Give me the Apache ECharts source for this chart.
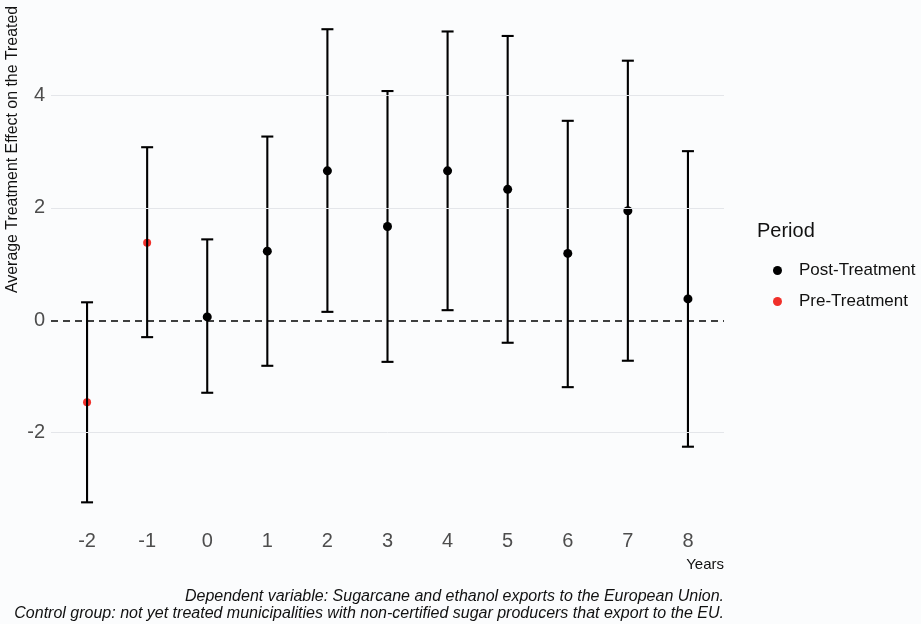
<!DOCTYPE html>
<html>
<head>
<meta charset="utf-8">
<script src="https://cdn.jsdelivr.net/npm/echarts@6/dist/echarts.min.js"></script>
<style>
html,body{margin:0;padding:0;background:#fbfcfd;}
#chart{width:921px;height:624px;}
</style>
</head>
<body>
<div id="chart"></div>
<script>
const years = [-2, -1, 0, 1, 2, 3, 4, 5, 6, 7, 8];
const estimate = [-1.46, 1.38, 0.06, 1.23, 2.66, 1.67, 2.66, 2.33, 1.19, 1.95, 0.38];
const lower = [-3.24, -0.30, -1.29, -0.81, 0.15, -0.74, 0.18, -0.40, -1.19, -0.72, -2.25];
const upper = [0.32, 3.08, 1.44, 3.27, 5.18, 4.08, 5.14, 5.06, 3.55, 4.62, 3.01];
const period = ['Pre-Treatment', 'Pre-Treatment', 'Post-Treatment', 'Post-Treatment', 'Post-Treatment',
  'Post-Treatment', 'Post-Treatment', 'Post-Treatment', 'Post-Treatment', 'Post-Treatment', 'Post-Treatment'];
const yTicks = [-2, 0, 2, 4];
const legendNames = ['Post-Treatment', 'Pre-Treatment'];
const yTitle = 'Average Treatment Effect on the Treated';
const xTitle = 'Years';
const legendTitle = 'Period';
const captionLines = [
  'Dependent variable: Sugarcane and ethanol exports to the European Union.',
  'Control group: not yet treated municipalities with non-certified sugar producers that export to the EU.'
];

const FONT = '"Liberation Sans", Arial, sans-serif';
const chart = echarts.init(document.getElementById('chart'), null, {renderer: 'canvas'});

const errData = years.map((y, i) => [y, lower[i], upper[i]]);
const postData = [], preData = [];
years.forEach((y, i) => {
  (period[i] === 'Post-Treatment' ? postData : preData).push([y, estimate[i]]);
});

const captionGraphics = captionLines.map((line, i) => ({
  type: 'text', right: 921 - 724, top: 589 + i * 17,
  style: {text: line, fontSize: 16, fontStyle: 'italic', fontFamily: FONT, fill: '#111'}
}));

const option = {
  backgroundColor: '#fbfcfd',
  animation: false,
  grid: {left: 51, right: 197, top: 4.5, bottom: 97.5, containLabel: false},
  xAxis: {
    type: 'value', min: -2.6, max: 8.6,
    axisLine: {show: false}, axisTick: {show: false}, splitLine: {show: false},
    axisLabel: {customValues: years, formatter: v => String(v), color: '#4d4d4d', fontSize: 20, fontFamily: FONT, margin: 5}
  },
  yAxis: {
    type: 'value', min: -3.67, max: 5.62,
    axisLine: {show: false}, axisTick: {show: false}, splitLine: {show: false},
    axisLabel: {customValues: yTicks, formatter: v => String(v), color: '#4d4d4d', fontSize: 20, fontFamily: FONT, margin: 6}
  },
  legend: {
    orient: 'vertical', left: 768, top: 257,
    data: legendNames,
    icon: 'circle', itemWidth: 9, itemHeight: 9, itemGap: 14,
    textStyle: {fontSize: 17, fontFamily: FONT, color: '#111', padding: [0, 0, 0, 12]}
  },
  graphic: [
    {type: 'text', left: 757, top: 221, style: {text: legendTitle, fontSize: 20, fontFamily: FONT, fill: '#111'}},
    {type: 'text', x: 13, y: 293, rotation: Math.PI / 2,
      style: {text: yTitle, fontSize: 15.9, fontFamily: FONT, fill: '#111', align: 'left', verticalAlign: 'middle'}},
    {type: 'text', right: 921 - 724, top: 557, style: {text: xTitle, fontSize: 15, fontFamily: FONT, fill: '#111'}}
  ].concat(captionGraphics),
  series: [
    {
      type: 'custom', name: 'grid', silent: true, z: 1,
      data: [], renderItem: () => null,
      markLine: {
        silent: true, symbol: 'none', label: {show: false},
        lineStyle: {color: '#e4e6ea', width: 1, type: 'solid'},
        data: yTicks.filter(t => t !== 0).map(t => ({yAxis: t}))
      }
    },
    {
      type: 'custom', name: 'zero', silent: true, z: 2,
      data: [], renderItem: () => null,
      markLine: {
        silent: true, symbol: 'none', label: {show: false},
        lineStyle: {color: '#000', width: 1.6, type: [7, 5]},
        data: [{yAxis: 0}]
      }
    },
    {
      type: 'scatter', name: 'Post-Treatment', z: 3, data: postData,
      symbol: 'circle', symbolSize: 9, itemStyle: {color: '#000', opacity: 1}
    },
    {
      type: 'scatter', name: 'Pre-Treatment', z: 3, data: preData,
      symbol: 'circle', symbolSize: 8, itemStyle: {color: '#f0302a', opacity: 1}
    },
    {
      type: 'custom', name: 'errorbars', z: 4,
      data: errData,
      renderItem: function (params, api) {
        const x = api.value(0);
        const lo = api.coord([x, api.value(1)]);
        const hi = api.coord([x, api.value(2)]);
        const hw = 6;
        const st = {stroke: '#000', lineWidth: 2.1};
        return {
          type: 'group',
          children: [
            {type: 'line', shape: {x1: lo[0], y1: lo[1], x2: hi[0], y2: hi[1]}, style: st},
            {type: 'line', shape: {x1: lo[0] - hw, y1: lo[1], x2: lo[0] + hw, y2: lo[1]}, style: st},
            {type: 'line', shape: {x1: hi[0] - hw, y1: hi[1], x2: hi[0] + hw, y2: hi[1]}, style: st}
          ]
        };
      }
    }
  ]
};
chart.setOption(option);
</script>
</body>
</html>
